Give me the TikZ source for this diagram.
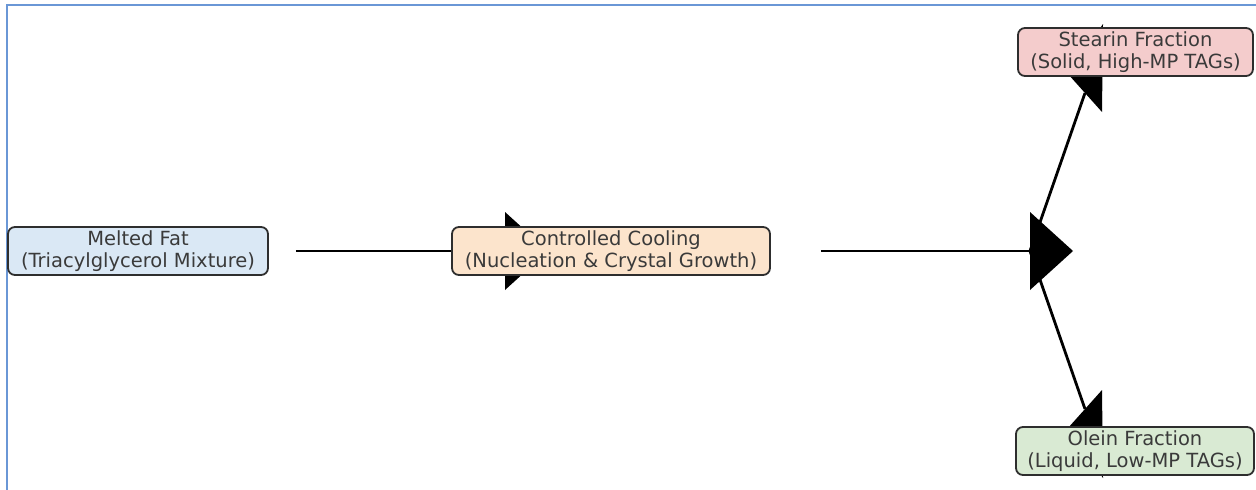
\documentclass[tikz,border=0pt]{standalone}
\usepackage{fontspec}
\setmainfont{DejaVu Sans}
\usetikzlibrary{backgrounds}
\definecolor{frameblue}{HTML}{6A97D6}
\definecolor{bluefill}{HTML}{DAE8F5}
\definecolor{peachfill}{HTML}{FCE4CC}
\definecolor{pinkfill}{HTML}{F4CCCC}
\definecolor{greenfill}{HTML}{D9EAD3}
\definecolor{edgegray}{HTML}{2E2E2E}
\definecolor{textgray}{HTML}{3A3A3A}
\begin{document}
\begin{tikzpicture}[x=1pt,y=-1pt,
  box/.style={draw=edgegray, line width=1.8pt, rounded corners=7pt,
    minimum height=48pt, align=center, text=textgray,
    font=\fontsize{19.5}{21.5}\selectfont, inner sep=0pt},
  shaft/.style={line width=2.8pt, draw=black},
  headfill/.style={fill=black},
  framestyle/.style={draw=frameblue, line width=2.4pt}]
\useasboundingbox (0,0) rectangle (1256,490);
% boxes
\node[box, fill=bluefill, minimum width=260pt] (melted) at (138,251)
  {Melted Fat\\(Triacylglycerol Mixture)};
\node[box, fill=peachfill, minimum width=318pt] (cool) at (611,251)
  {Controlled Cooling\\(Nucleation \& Crystal Growth)};
\node[box, fill=pinkfill, minimum width=235pt] (stearin) at (1135.5,52)
  {Stearin Fraction\\(Solid, High-MP TAGs)};
\node[box, fill=greenfill, minimum width=238pt] (olein) at (1135,451)
  {Olein Fraction\\(Liquid, Low-MP TAGs)};
% arrow geometry
\coordinate (h1b) at (505,251);
\coordinate (h1a) at (505,212);
\coordinate (h1c) at (505,290);
\coordinate (h1t) at (548,251);
\coordinate (h2b) at (1030,251);
\coordinate (h2a) at (1030,212);
\coordinate (h2c) at (1030,290);
\coordinate (h2t) at (1073,251);
\coordinate (h3m) at (1085,93);
\coordinate (h3t) at (1103,24);
\coordinate (h3r) at (1102,112);
\coordinate (h3l) at (1068,74);
\coordinate (h4m) at (1085,409);
\coordinate (h4t) at (1103,478);
\coordinate (h4r) at (1102,390);
\coordinate (h4l) at (1068,428);
\begin{scope}[on background layer]
  \draw[framestyle] (7,490) -- (7,5) -- (1256,5);
  \draw[shaft] ([xshift=27pt]melted.east) -- (h1b);
  \fill[headfill] (h1a) -- (h1t) -- (h1c) -- cycle;
  \draw[shaft] ([xshift=50pt]cool.east) -- (h2b);
  \fill[headfill] (h2a) -- (h2t) -- (h2c) -- cycle;
  \draw[shaft] (h2b) -- (h3m);
  \fill[headfill] (h3t) -- (h3r) -- (h3l) -- cycle;
  \draw[shaft] (h2b) -- (h4m);
  \fill[headfill] (h4t) -- (h4r) -- (h4l) -- cycle;
\end{scope}
\end{tikzpicture}
\end{document}
